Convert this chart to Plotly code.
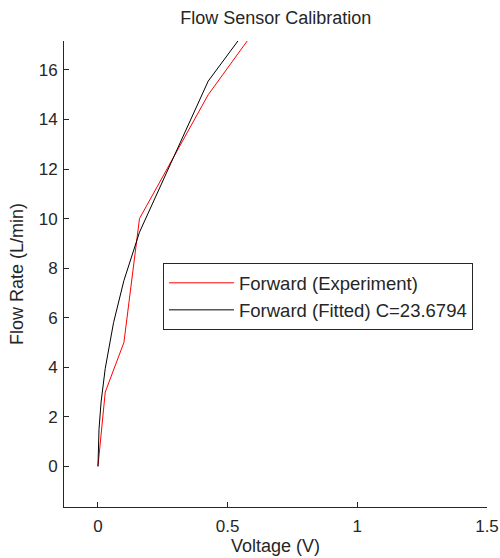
import plotly.graph_objects as go

exp_voltage = [0.0, 0.028, 0.10, 0.16, 0.425, 1.0]
exp_flow = [0.0, 3.0, 5.0, 10.0, 15.0, 23.3]

# Fitted curve points
fit_voltage = [0.0, 0.004, 0.012, 0.028, 0.06, 0.10, 0.16, 0.425, 1.0]
fit_flow = [0.0, 1.5, 2.6, 3.95, 5.8, 7.5, 9.45, 15.55, 23.68]

x_ticks = [0, 0.5, 1, 1.5]
x_tick_labels = ["0", "0.5", "1", "1.5"]
y_ticks = [0, 2, 4, 6, 8, 10, 12, 14, 16]

fg = "#262626"
font = "Liberation Sans, Arial, Helvetica, sans-serif"

fig = go.Figure()
fig.add_trace(go.Scatter(x=exp_voltage, y=exp_flow, mode="lines",
                         line=dict(color="#ff0000", width=1),
                         name="Forward (Experiment)"))
fig.add_trace(go.Scatter(x=fit_voltage, y=fit_flow, mode="lines",
                         line=dict(color="#000000", width=1),
                         name="Forward (Fitted) C=23.6794"))

fig.update_layout(
    width=500, height=558,
    margin=dict(l=64, r=12.5, t=41, b=51.3, pad=0),
    paper_bgcolor="white", plot_bgcolor="white",
    font=dict(family=font, color=fg, size=17),
    title=dict(text="Flow Sensor Calibration", x=0.5515, xanchor="center",
               y=1 - 18 / 558, yanchor="middle",
               font=dict(size=18, color=fg)),
    showlegend=True,
    legend=dict(x=0.234, y=0.523, xanchor="left", yanchor="top",
                bordercolor=fg, borderwidth=1, bgcolor="white",
                font=dict(size=18.5, color=fg), itemwidth=65,
                traceorder="normal"),
    xaxis=dict(range=[-0.131, 1.5], tickvals=x_ticks, ticktext=x_tick_labels,
               ticks="inside", ticklen=5, tickcolor=fg, showgrid=False,
               zeroline=False, showline=True, linecolor=fg, linewidth=1,
               automargin=False, tickfont=dict(size=17, color=fg),
               ticklabelstandoff=4,
               title=dict(text="Voltage (V)", font=dict(size=18, color=fg),
                          standoff=3)),
    yaxis=dict(range=[-1.64, 17.17], tickvals=y_ticks,
               ticks="inside", ticklen=5, tickcolor=fg, showgrid=False,
               zeroline=False, showline=True, linecolor=fg, linewidth=1,
               automargin=False, tickfont=dict(size=17, color=fg),
               ticklabelstandoff=2,
               title=dict(text="Flow Rate (L/min)", font=dict(size=18, color=fg),
                          standoff=10)),
)

fig.write_html("out.html")
